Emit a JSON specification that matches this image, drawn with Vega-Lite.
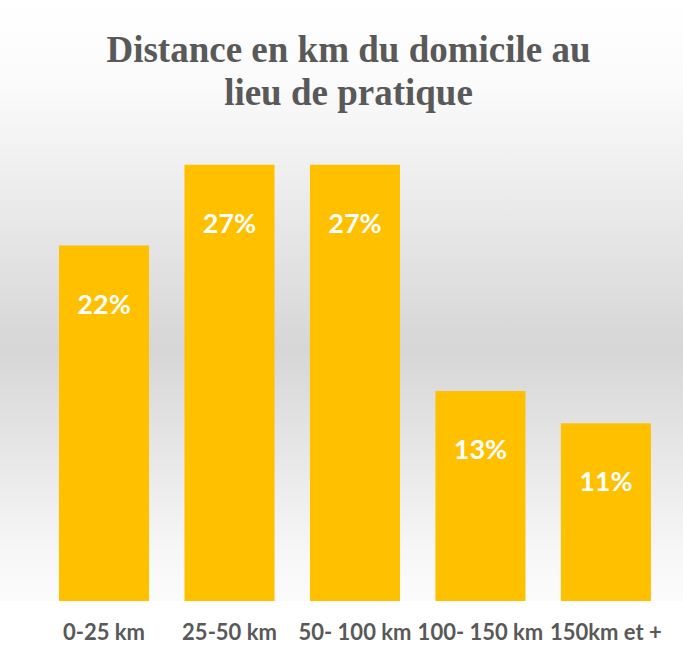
{
  "$schema": "https://vega.github.io/schema/vega-lite/v6.json",
  "width": 683,
  "height": 601,
  "padding": 0,
  "background": "#ffffff",
  "title": {
    "text": ["Distance en km du domicile au", "lieu de pratique"],
    "font": "Liberation Serif",
    "fontSize": 37,
    "fontWeight": "bold",
    "color": "#595959",
    "lineHeight": 43,
    "anchor": "middle",
    "offset": -113,
    "dx": 7
  },
  "data": {
    "values": [
      {"distance": "0-25 km", "pct": 0.22},
      {"distance": "25-50 km", "pct": 0.27},
      {"distance": "50- 100 km", "pct": 0.27},
      {"distance": "100- 150 km", "pct": 0.13},
      {"distance": "150km et +", "pct": 0.11}
    ]
  },
  "encoding": {
    "x": {
      "field": "distance",
      "type": "nominal",
      "sort": null,
      "scale": {"paddingInner": 0.2823, "paddingOuter": 0.3628, "align": 0.648},
      "axis": {
        "title": null,
        "labelAngle": 0,
        "ticks": false,
        "tickSize": 0,
        "domain": false,
        "labelFont": "Lato",
        "labelFontSize": 22,
        "labelFontWeight": "bold",
        "labelColor": "#595959",
        "labelPadding": 21,
        "grid": false
      }
    },
    "y": {
      "field": "pct",
      "type": "quantitative",
      "scale": {"domain": [0, 0.372], "nice": false, "zero": true},
      "axis": null
    }
  },
  "layer": [
    {"mark": {"type": "bar", "color": "#FFC000"}},
    {
      "mark": {
        "type": "text",
        "font": "Lato",
        "fontSize": 27,
        "fontWeight": "bold",
        "color": "#ffffff",
        "baseline": "middle",
        "align": "center",
        "dy": 60
      },
      "encoding": {"text": {"field": "pct", "type": "quantitative", "format": ".0%"}}
    }
  ],
  "config": {
    "view": {
      "stroke": null,
      "fill": {
        "gradient": "linear",
        "x1": 0, "y1": 0, "x2": 0, "y2": 1,
        "stops": [
          {"offset": 0, "color": "#ffffff"},
          {"offset": 0.14, "color": "#fbfbfb"},
          {"offset": 0.58, "color": "#d6d6d6"},
          {"offset": 0.92, "color": "#f7f7f7"},
          {"offset": 1, "color": "#fbfbfb"}
        ]
      }
    }
  }
}
